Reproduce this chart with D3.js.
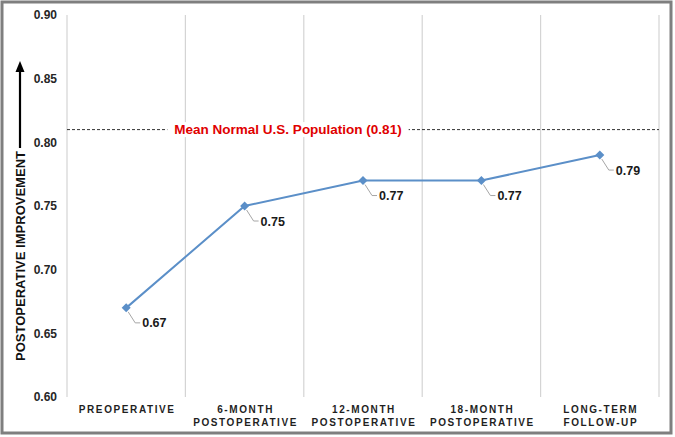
<!DOCTYPE html>
<html><head><meta charset="utf-8">
<script src="https://cdn.jsdelivr.net/npm/d3@7"></script>
<style>body{margin:0;background:#fff}svg{display:block;font-family:Arial,"Liberation Sans",sans-serif}</style>
</head><body>
<svg id="c" width="675" height="437"></svg>
<script>
const categories = [["PREOPERATIVE"],["6-MONTH","POSTOPERATIVE"],["12-MONTH","POSTOPERATIVE"],["18-MONTH","POSTOPERATIVE"],["LONG-TERM","FOLLOW-UP"]];
const values = [0.67, 0.75, 0.77, 0.77, 0.79];
const yTicks = [0.60, 0.65, 0.70, 0.75, 0.80, 0.85, 0.90];
const refValue = 0.81;
const refLabel = "Mean Normal U.S. Population (0.81)";
const yTitle = "POSTOPERATIVE IMPROVEMENT";

const svg = d3.select("#c");
const L = 67, R = 659, T = 15, B = 397;
const x = d3.scaleBand().domain(d3.range(categories.length)).range([L, R]).padding(0);
const y = d3.scaleLinear().domain([0.60, 0.90]).range([B, T]);

svg.append("rect").attr("x",2).attr("y",2).attr("width",669).attr("height",431)
  .attr("fill","#fff").attr("stroke","#7f7f7f").attr("stroke-width",3);

// vertical gridlines
const gx = [...x.domain().map(d => x(d)), R];
svg.selectAll("line.vg").data(gx).join("line").attr("class","vg")
  .attr("x1",d=>d).attr("x2",d=>d).attr("y1",T).attr("y2",B)
  .attr("stroke","#d4d4d4").attr("stroke-width",1.2);

// y axis labels
const yAxis = d3.axisLeft(y).tickValues(yTicks).tickFormat(d3.format(".2f")).tickSize(0).tickPadding(10);
const ya = svg.append("g").attr("transform",`translate(${L},0)`).call(yAxis);
ya.select(".domain").remove();
ya.selectAll("text").attr("font-size",12).attr("font-weight","bold").attr("fill","#262626")
  .attr("font-family","Arial, 'Liberation Sans', sans-serif");

// x axis labels
const xa = svg.append("g");
categories.forEach((lines,i)=>{
  const cx = x(i)+x.bandwidth()/2+1;
  const t = xa.append("text").attr("x", cx).attr("y",413)
    .attr("text-anchor","middle").attr("font-size",10).attr("font-weight","bold")
    .attr("letter-spacing","1.6px").attr("fill","#1f1f1f");
  lines.forEach((ln,j)=>t.append("tspan").attr("x", cx).attr("dy", j?12.5:0).text(ln));
});

// reference dashed line
const yr = y(refValue);
svg.append("line").attr("x1",L).attr("x2",R).attr("y1",yr).attr("y2",yr)
  .attr("stroke","#333").attr("stroke-width",1).attr("stroke-dasharray","3,2");
const refG = svg.append("g");
const bgRect = refG.append("rect").attr("fill","#fff");
const rt = refG.append("text").attr("x",288).attr("y",yr+4.5).attr("text-anchor","middle")
  .attr("font-size",13.5).attr("font-weight","bold").attr("fill","#e00000").text(refLabel);
const bb = rt.node().getBBox();
bgRect.attr("x",bb.x-7).attr("y",bb.y).attr("width",bb.width+14).attr("height",bb.height);

// y title + arrow
svg.append("text").attr("transform",`translate(25,256) rotate(-90)`).attr("text-anchor","middle")
  .attr("font-size",13).attr("font-weight","bold").attr("fill","#111")
  .attr("textLength",210).attr("lengthAdjust","spacingAndGlyphs").text(yTitle);
svg.append("line").attr("x1",20).attr("x2",20).attr("y1",148).attr("y2",68)
  .attr("stroke","#000").attr("stroke-width",2.2);
svg.append("path").attr("d","M15.5,72 L20,61 L24.5,72 Z").attr("fill","#000");

// series line
const px = i => x(i)+x.bandwidth()/2;
svg.append("path").datum(values).attr("fill","none").attr("stroke","#5b8fc8").attr("stroke-width",2)
  .attr("d", d3.line().x((d,i)=>px(i)).y(d=>y(d)));
svg.selectAll("path.mk").data(values).join("path").attr("class","mk")
  .attr("transform",(d,i)=>`translate(${px(i)},${y(d)})`)
  .attr("d", "M0,-4.5L4.5,0L0,4.5L-4.5,0Z").attr("fill","#5b8fc8");

// data labels with leader lines
const lg = svg.append("g");
values.forEach((d,i)=>{
  const X = px(i), Y = y(d);
  lg.append("path").attr("d",`M${X+2},${Y+4} L${X+9},${Y+15} L${X+14},${Y+15}`)
    .attr("fill","none").attr("stroke","#a6a6a6").attr("stroke-width",1);
  lg.append("text").attr("x",X+16).attr("y",Y+19.5).attr("font-size",12.5).attr("font-weight","bold")
    .attr("fill","#1a1a1a").text(d3.format(".2f")(d));
});
</script>
</body></html>
